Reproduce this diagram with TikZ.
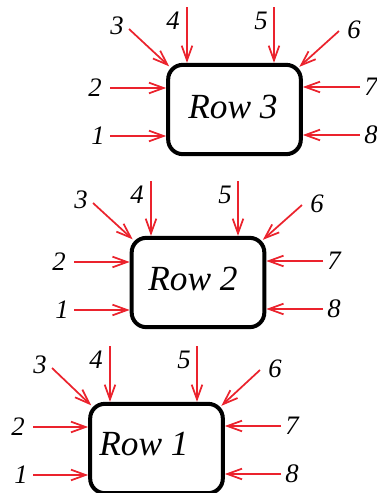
\documentclass[tikz,border=0pt]{standalone}
\usepackage{fontspec}
\setmainfont{Liberation Serif}
\usetikzlibrary{arrows.meta,calc}
\definecolor{arrred}{RGB}{235,35,45}
\begin{document}
\begin{tikzpicture}[x=0.75pt,y=-0.75pt,
  rowbox/.style={draw,line width=3pt,rounded corners=11pt,minimum width=99.5pt,minimum height=67pt,inner sep=0pt},
  rowtext/.style={anchor=base,inner sep=0pt,font=\fontsize{26.5}{30}\selectfont\itshape},
  numlbl/.style={inner sep=0pt,font=\fontsize{20}{24}\selectfont\itshape},
  inarrow/.style={draw=arrred,line width=1.3pt,-{Straight Barb[length=11pt,width=8pt,line width=1.3pt]}}]
\useasboundingbox (0,0) rectangle (376,493);
% #1 name, #2 L, #3 T, #4 R, #5 B, #6 row number, #7 text x, #8 text baseline y
\newcommand\rowgroup[8]{%
  \node[rowbox] (#1) at ({(#2+#4)/2},{(#3+#5)/2}) {};
  \node[rowtext] (#1-t) at (#7,#8) {Row #6};
  % labels
  \node[numlbl] (#1-l1) at (#2-68,#3+73) {1};
  \node[numlbl] (#1-l2) at (#2-71,#3+25) {2};
  \node[numlbl] (#1-l3) at (#2-49,#3-37) {3};
  \node[numlbl] (#1-l4) at (#2+7,#3-42) {4};
  \node[numlbl] (#1-l5) at (#2+95,#3-42) {5};
  \node[numlbl] (#1-l6) at (#4+51,#3-33) {6};
  \node[numlbl] (#1-l7) at (#4+68,#3+24) {7};
  \node[numlbl] (#1-l8) at (#4+68,#3+72) {8};
  % arrow starts
  \coordinate (#1-s1) at (#2-56,#3+73);
  \coordinate (#1-s2) at (#2-56,#3+25);
  \coordinate (#1-s3) at (#2-37,#3-34);
  \coordinate (#1-s4) at (#2+21,#3-56);
  \coordinate (#1-s5) at (#2+108,#3-56);
  \coordinate (#1-s6) at (#4+36,#3-32);
  \coordinate (#1-s7) at (#4+57,#3+24);
  \coordinate (#1-s8) at (#4+57,#3+72);
  % arrows
  \draw[inarrow] (#1-s1) -- (#1-s1 -| #1.west);
  \draw[inarrow] (#1-s2) -- (#1-s2 -| #1.west);
  \draw[inarrow] (#1-s3) -- ($(#1.north west)+(3,3.5)$);
  \draw[inarrow] (#1-s4) -- (#1-s4 |- #1.north);
  \draw[inarrow] (#1-s5) -- (#1-s5 |- #1.north);
  \draw[inarrow] (#1-s6) -- ($(#1.north east)+(-3.5,4)$);
  \draw[inarrow] (#1-s7) -- (#1-s7 -| #1.east);
  \draw[inarrow] (#1-s8) -- (#1-s8 -| #1.east);
}
\rowgroup{r3}{166}{63}{303}{156}{3}{233}{118}
\rowgroup{r2}{130}{237}{266}{328}{2}{193}{290}
\rowgroup{r1}{89}{402}{224}{495}{1}{144}{455}
\end{tikzpicture}
\end{document}
